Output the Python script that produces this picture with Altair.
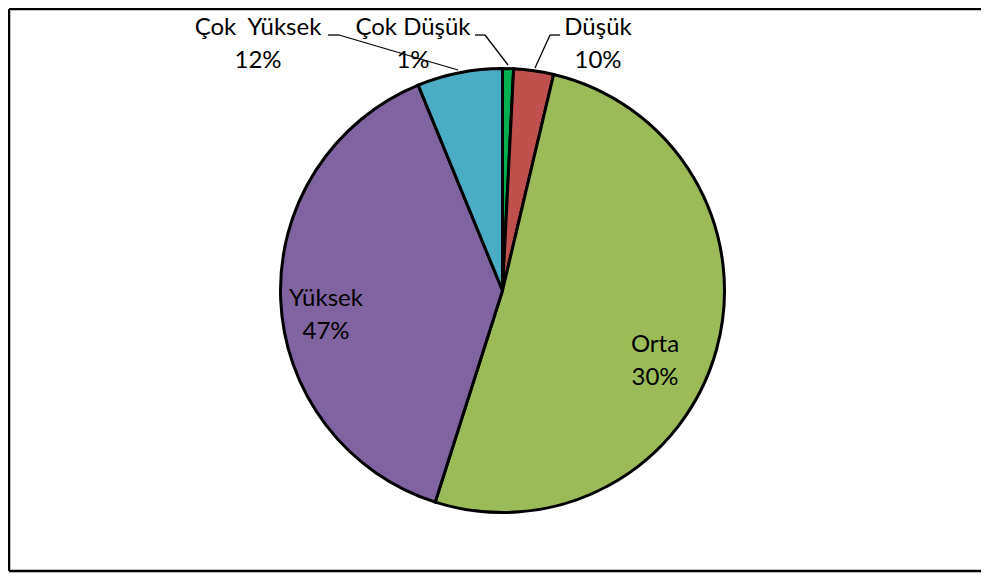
import altair as alt
import pandas as pd

# ---- data ----
categories = ["Çok Düşük", "Düşük", "Orta", "Yüksek", "Çok Yüksek"]
slice_share = [0.8, 2.9, 51.2, 38.9, 6.2]          # slice sizes as drawn
label_pct = ["1%", "10%", "30%", "47%", "12%"]      # percentages printed on labels
label_names = ["Çok Düşük", "Düşük", "Orta", "Yüksek", "Çok\u00a0 Yüksek"]
colors = ["#00B050", "#C0504D", "#9BBB59", "#8064A2", "#4BACC6"]

# ---- layout (positions / styles, not data) ----
W, H = 973, 565
CX, CY = 494.5, 282.5
R = 222
FONT = "Lato"
FS = 24
# label anchor (centre x, baseline of first line) per category
label_xy = {
    "Çok Düşük": (405, 27),
    "Düşük": (590, 27),
    "Orta": (647, 344),
    "Yüksek": (318, 298),
    "Çok Yüksek": (250, 27),
}
LINE_GAP = 33
leaders = [
    (320, 27, 331, 27), (331, 27, 450, 62),
    (467, 27, 477, 27), (477, 27, 500, 57),
    (542, 27, 552, 27), (542, 27, 527, 60),
]
frame_lines = [
    (1, 1, W + 50, 1),          # top
    (1, 1, 1, H - 2),           # left
    (1, H - 2, W + 50, H - 2),  # bottom
]

df = pd.DataFrame({
    "category": categories,
    "share": slice_share,
    "order": list(range(len(categories))),
})

rows = []
for cat, name, pct in zip(categories, label_names, label_pct):
    x, y = label_xy[cat]
    rows.append({"t": name, "x": x, "y": y})
    rows.append({"t": pct, "x": x, "y": y + LINE_GAP})
labels_df = pd.DataFrame(rows)

leaders_df = pd.DataFrame(leaders, columns=["x", "y", "x2", "y2"])
frame_df = pd.DataFrame(frame_lines, columns=["x", "y", "x2", "y2"])

pie = alt.Chart(df).mark_arc(outerRadius=R, stroke="black", strokeWidth=3).encode(
    theta=alt.Theta("share:Q", stack=True),
    color=alt.Color("category:N", scale=alt.Scale(domain=categories, range=colors), legend=None),
    order=alt.Order("order:Q"),
    x=alt.value(CX),
    y=alt.value(CY),
)

text = alt.Chart(labels_df).mark_text(
    font=FONT, fontSize=FS, color="black", align="center", baseline="alphabetic"
).encode(
    x=alt.X("x:Q", scale=None),
    y=alt.Y("y:Q", scale=None),
    text="t:N",
)

lines = alt.Chart(leaders_df).mark_rule(color="black", strokeWidth=1.3).encode(
    x=alt.X("x:Q", scale=None),
    y=alt.Y("y:Q", scale=None),
    x2="x2:Q",
    y2="y2:Q",
)

frame = alt.Chart(frame_df).mark_rule(color="black", strokeWidth=2.5).encode(
    x=alt.X("x:Q", scale=None),
    y=alt.Y("y:Q", scale=None),
    x2="x2:Q",
    y2="y2:Q",
)

chart = alt.layer(frame, pie, lines, text).properties(
    width=W, height=H, padding=0,
    autosize=alt.AutoSizeParams(type="none"),
).configure_view(stroke=None)

chart.save("out.html", embed_options={"renderer": "svg", "actions": False})
